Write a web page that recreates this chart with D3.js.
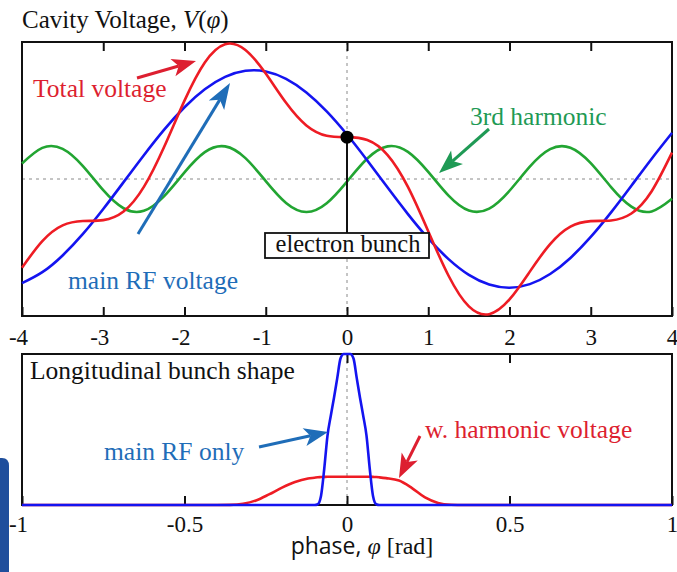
<!DOCTYPE html>
<html>
<head>
<meta charset="utf-8">
<script src="https://cdn.jsdelivr.net/npm/d3@7"></script>
<style>
  html, body { margin: 0; padding: 0; background: #fff; }
  svg { display: block; }
  text { font-family: "Liberation Serif", "Times New Roman", serif; }
</style>
</head>
<body>
<svg id="chart" width="677" height="572"></svg>
<script>
// ---------------- data ----------------
const phase = [-4, -3.75, -3.5, -3.25, -3, -2.75, -2.5, -2.25, -2, -1.75, -1.5, -1.25, -1, -0.75, -0.5, -0.25,
  0, 0.25, 0.5, 0.75, 1, 1.25, 1.5, 1.75, 2, 2.25, 2.5, 2.75, 3, 3.25, 3.5, 3.75, 4];
const mainRF = [-0.958, -0.857, -0.703, -0.505, -0.276, -0.029, 0.219, 0.454, 0.660, 0.825, 0.939, 0.995, 0.989,
  0.921, 0.796, 0.622, 0.409, 0.170, -0.079, -0.323, -0.547, -0.737, -0.882, -0.971, -1.000, -0.967, -0.874,
  -0.726, -0.533, -0.307, -0.062, 0.187, 0.424];
const harmonic3 = [0.142, 0.286, 0.277, 0.119, -0.103, -0.269, -0.292, -0.157, 0.061, 0.247, 0.300, 0.192, -0.019,
  -0.220, -0.303, -0.223, -0.024, 0.188, 0.300, 0.250, 0.066, -0.153, -0.290, -0.272, -0.108, 0.114, 0.275,
  0.288, 0.146, -0.074, -0.254, -0.298, -0.182];
const totalV = [-0.816, -0.571, -0.426, -0.386, -0.378, -0.299, -0.073, 0.296, 0.721, 1.072, 1.240, 1.187, 0.970,
  0.701, 0.493, 0.398, 0.385, 0.358, 0.220, -0.073, -0.481, -0.890, -1.172, -1.243, -1.108, -0.852, -0.599,
  -0.438, -0.387, -0.381, -0.317, -0.112, 0.242];
const phaseTicks = [-4, -3, -2, -1, 0, 1, 2, 3, 4];

const bunchPhase = [-1, -0.4, -0.36, -0.32, -0.28, -0.24, -0.2, -0.16, -0.12, -0.1, -0.09, -0.08, -0.07, -0.06,
  -0.05, -0.04, -0.03, -0.02, -0.01, 0, 0.01, 0.02, 0.03, 0.04, 0.05, 0.06, 0.07, 0.08, 0.09, 0.1, 0.12, 0.16,
  0.2, 0.24, 0.28, 0.32, 0.36, 0.4, 1];
const bunchMainRF = [0, 0, 0, 0, 0, 0, 0, 0, 0, 0, 0.005, 0.06, 0.24, 0.46, 0.59, 0.71, 0.84, 0.97, 1, 1, 1, 0.97,
  0.84, 0.71, 0.59, 0.46, 0.24, 0.06, 0.005, 0, 0, 0, 0, 0, 0, 0, 0, 0, 0];
const bunchHarmonic = [0, 0, 0.001, 0.008, 0.03, 0.07, 0.115, 0.152, 0.175, 0.181, 0.184, 0.185, 0.186, 0.187,
  0.187, 0.187, 0.187, 0.187, 0.187, 0.187, 0.187, 0.187, 0.187, 0.187, 0.187, 0.187, 0.187, 0.186, 0.185,
  0.183, 0.178, 0.162, 0.112, 0.05, 0.014, 0.002, 0, 0, 0];
const bunchTicks = [-1, -0.5, 0, 0.5, 1];

// ---------------- chart ----------------
const svg = d3.select("#chart");
const RED = "#ee1c24", BLUE = "#1414f0", GREEN = "#22a532";
const RED_T = "#dd1f30", BLUE_T = "#1f6db8", GREEN_T = "#1f9a55";
const ANN = 25.5;

// decorative blue tab at left edge
svg.append("path").attr("d", "M0,458 L2,458 Q9,458 9,466 L9,572 L0,572 Z").attr("fill", "#1f4e9c");

const x = d3.scaleLinear().domain([-4, 4]).range([22, 672]);
const y = d3.scaleLinear().domain([-1.26, 1.26]).range([316, 42]);
const x2 = d3.scaleLinear().domain([-1, 1]).range([22, 672]);
const y2 = d3.scaleLinear().domain([0, 1]).range([505, 354]);

// title
const title = svg.append("text").attr("x", 22).attr("y", 28).attr("font-size", 25).attr("fill", "#111");
title.append("tspan").text("Cavity Voltage, ");
title.append("tspan").attr("font-style", "italic").text("V");
title.append("tspan").text("(");
title.append("tspan").attr("font-style", "italic").text("φ");
title.append("tspan").text(")");

// ----- top panel -----
const topG = svg.append("g");
topG.append("line").attr("x1", x(-4)).attr("x2", x(4)).attr("y1", y(0)).attr("y2", y(0))
  .attr("stroke", "#8a8a8a").attr("stroke-width", 1).attr("stroke-dasharray", "3,4");
topG.append("line").attr("x1", x(0)).attr("x2", x(0)).attr("y1", 42).attr("y2", 316)
  .attr("stroke", "#8a8a8a").attr("stroke-width", 1).attr("stroke-dasharray", "3,4");

topG.append("rect").attr("x", 22).attr("y", 42).attr("width", 650).attr("height", 274)
  .attr("fill", "none").attr("stroke", "#111").attr("stroke-width", 2);

const axB = topG.append("g").attr("transform", "translate(0,316)")
  .call(d3.axisBottom(x).tickValues(phaseTicks).tickSize(-9).tickPadding(13).tickFormat(d => String(d)));
axB.select(".domain").remove();
axB.selectAll("line").attr("stroke", "#111").attr("stroke-width", 2);
axB.selectAll("text").attr("font-size", 23).attr("fill", "#111")
  .attr("font-family", "Liberation Serif").attr("dx", d => d < 0 ? -4 : 0);

const axT = topG.append("g").attr("transform", "translate(0,42)")
  .call(d3.axisTop(x).tickValues(phaseTicks.slice(1, -1)).tickSize(-9).tickFormat(""));
axT.select(".domain").remove();
axT.selectAll("line").attr("stroke", "#111").attr("stroke-width", 2);

const vLine = d3.line().x((d, i) => x(phase[i])).y(d => y(d)).curve(d3.curveNatural);
topG.append("path").datum(harmonic3).attr("d", vLine).attr("fill", "none").attr("stroke", GREEN).attr("stroke-width", 2.6);
topG.append("path").datum(mainRF).attr("d", vLine).attr("fill", "none").attr("stroke", BLUE).attr("stroke-width", 2.6);
topG.append("path").datum(totalV).attr("d", vLine).attr("fill", "none").attr("stroke", RED).attr("stroke-width", 2.6);

// arrow helper
function arrow(g, x1, y1, x2, y2, color, len, wid, sw) {
  const a = Math.atan2(y2 - y1, x2 - x1);
  const ux = Math.cos(a), uy = Math.sin(a), px = -uy, py = ux;
  const bx = x2 - ux * len, by = y2 - uy * len;
  const nx = x2 - ux * len * 0.75, ny = y2 - uy * len * 0.75;
  g.append("line").attr("x1", x1).attr("y1", y1).attr("x2", nx).attr("y2", ny)
    .attr("stroke", color).attr("stroke-width", sw);
  g.append("path").attr("d", `M${x2},${y2} L${bx + px * wid},${by + py * wid} L${nx},${ny} L${bx - px * wid},${by - py * wid} Z`)
    .attr("fill", color);
}

// annotations top
arrow(topG, 137, 78, 196, 61, RED_T, 24, 9, 3);
topG.append("text").attr("x", 33).attr("y", 97).attr("font-size", ANN).attr("fill", RED_T).text("Total voltage");

arrow(topG, 138, 234, 230, 83, BLUE_T, 26, 9, 3);
topG.append("text").attr("x", 68).attr("y", 289).attr("font-size", ANN).attr("fill", BLUE_T).text("main RF voltage");

arrow(topG, 489, 129, 439, 173, GREEN_T, 24, 9, 3);
topG.append("text").attr("x", 470).attr("y", 125).attr("font-size", ANN).attr("fill", GREEN_T).text("3rd harmonic");

// electron bunch marker
const dotY = y(totalV[phase.indexOf(0)]);
topG.append("line").attr("x1", x(0)).attr("x2", x(0)).attr("y1", dotY).attr("y2", 233)
  .attr("stroke", "#111").attr("stroke-width", 2);
topG.append("circle").attr("cx", x(0)).attr("cy", dotY).attr("r", 6.5).attr("fill", "#000");
topG.append("rect").attr("x", 265).attr("y", 233).attr("width", 164).attr("height", 25)
  .attr("fill", "#fff").attr("stroke", "#111").attr("stroke-width", 1.8);
topG.append("text").attr("x", 348).attr("y", 252).attr("text-anchor", "middle").attr("font-size", 24.5)
  .attr("fill", "#111").text("electron bunch");

// ----- bottom panel -----
const bot = svg.append("g");
bot.append("line").attr("x1", x2(0)).attr("x2", x2(0)).attr("y1", 354).attr("y2", 505)
  .attr("stroke", "#8a8a8a").attr("stroke-width", 1).attr("stroke-dasharray", "3,4");
bot.append("rect").attr("x", 22).attr("y", 354).attr("width", 650).attr("height", 151)
  .attr("fill", "none").attr("stroke", "#111").attr("stroke-width", 2);

const bB = bot.append("g").attr("transform", "translate(0,505)")
  .call(d3.axisBottom(x2).tickValues(bunchTicks).tickSize(-9).tickPadding(11).tickFormat(d => String(d)));
bB.select(".domain").remove();
bB.selectAll("line").attr("stroke", "#111").attr("stroke-width", 2);
bB.selectAll("text").attr("font-size", 23).attr("fill", "#111").attr("font-family", "Liberation Serif")
  .attr("dx", d => d === -1 ? -4 : 0);

const bT = bot.append("g").attr("transform", "translate(0,354)")
  .call(d3.axisTop(x2).tickValues([0, 0.5]).tickSize(-9).tickFormat(""));
bT.select(".domain").remove();
bT.selectAll("line").attr("stroke", "#111").attr("stroke-width", 2);

bot.append("text").attr("x", 30).attr("y", 379).attr("font-size", ANN).attr("fill", "#111").text("Longitudinal bunch shape");

const bLine = d3.line().x((d, i) => x2(bunchPhase[i])).y(d => y2(d)).curve(d3.curveMonotoneX);
bot.append("path").datum(bunchHarmonic).attr("d", bLine).attr("fill", "none").attr("stroke", RED).attr("stroke-width", 2.6);
bot.append("path").datum(bunchMainRF).attr("d", bLine).attr("fill", "none").attr("stroke", BLUE).attr("stroke-width", 2.6);

arrow(bot, 259, 447, 328, 432, BLUE_T, 24, 9, 3);
bot.append("text").attr("x", 104).attr("y", 460).attr("font-size", ANN).attr("fill", BLUE_T).text("main RF only");

arrow(bot, 420, 436, 399, 478, RED_T, 24, 9, 3);
bot.append("text").attr("x", 425).attr("y", 438).attr("font-size", ANN).attr("fill", RED_T).text("w. harmonic voltage");

// x-axis title
const xt = svg.append("text").attr("x", 362).attr("y", 554).attr("text-anchor", "middle").attr("font-size", 24).attr("fill", "#111");
xt.append("tspan").attr("font-family", "Open Sans").attr("font-size", 23).text("phase, ");
xt.append("tspan").attr("font-style", "italic").text("φ");
xt.append("tspan").text(" [rad]");
</script>
</body>
</html>
